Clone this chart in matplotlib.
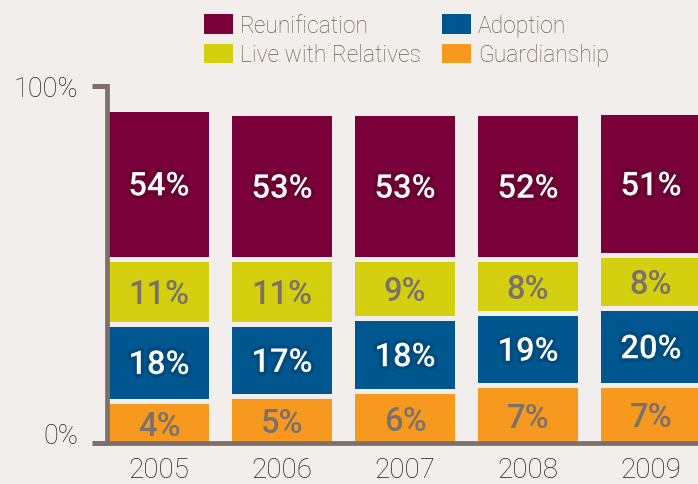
import matplotlib
matplotlib.use("Agg")
import matplotlib.pyplot as plt
import matplotlib.patheffects as pe
from matplotlib.patches import Patch

# ---- data ----
years = ["2005", "2006", "2007", "2008", "2009"]
series_names = ["Reunification", "Live with Relatives", "Adoption", "Guardianship"]
# printed labels (%)
reun_pct = [54, 53, 53, 52, 51]
rel_pct = [11, 11, 9, 8, 8]
adopt_pct = [18, 17, 18, 19, 20]
guard_pct = [4, 5, 6, 7, 7]
# drawn segment heights (% of the axis)
guard_h = [11.0, 12.3, 13.7, 15.4, 15.5]
adopt_h = [20.1, 18.7, 19.0, 18.7, 19.9]
rel_h = [16.8, 16.7, 15.0, 13.6, 13.6]
reun_h = [40.6, 39.7, 39.7, 39.7, 38.5]
y_ticks = [0, 100]
y_ticklabels = ["0%", "100%"]

# ---- style ----
BG = "#f2eeeb"
AXC = "#7b706b"
C_REUN = "#7a003a"
C_REL = "#d4d00f"
C_ADOPT = "#00568f"
C_GUARD = "#f7981f"
GAP = 1.4
BARW = 0.813
TXT_DARK = "#262221"
TXT_GRAY = "#7a716c"
LEG_TXT = "#6e5e56"

fig = plt.figure(figsize=(6.98, 4.85), dpi=100, facecolor=BG)
ax = fig.add_axes([0.1529, 0.0845, 0.8471, 0.7371])
ax.set_facecolor(BG)

x = list(range(len(years)))
stack = [
    (guard_h, guard_pct, C_GUARD, TXT_GRAY, None),
    (adopt_h, adopt_pct, C_ADOPT, "white", "#00385e"),
    (rel_h, rel_pct, C_REL, TXT_GRAY, None),
    (reun_h, reun_pct, C_REUN, "white", "#4a0023"),
]
bottoms = [0.0] * len(years)
for i, (heights, pcts, col, tcol, glow) in enumerate(stack):
    ax.bar(x, heights, bottom=bottoms, width=BARW, color=col,
           linewidth=0, zorder=2)
    for xi, b, h, p in zip(x, bottoms, heights, pcts):
        effects = None
        if glow is not None:
            effects = [pe.withStroke(linewidth=5, foreground=glow, alpha=0.35)]
        ax.text(xi, b + h / 2 - 0.6, f"{p}%", ha="center", va="center",
                fontsize=23.5, color=tcol, family="Roboto", fontweight="medium",
                zorder=4, path_effects=effects)
    bottoms = [b + h + GAP for b, h in zip(bottoms, heights)]

ax.set_xlim(-0.425, 4.382)
ax.set_ylim(0, 100)

for s in ["top", "right"]:
    ax.spines[s].set_visible(False)
for s in ["left", "bottom"]:
    ax.spines[s].set_color(AXC)
    ax.spines[s].set_linewidth(3.4)
    ax.spines[s].set_capstyle("projecting")
    ax.spines[s].set_zorder(5)

ax.set_yticks(y_ticks)
ax.set_yticklabels(y_ticklabels, fontsize=19.5, color=TXT_DARK, family="Roboto",
                   fontweight="light")
ax.tick_params(axis="y", length=10.6, width=3.6, color=AXC, pad=10)
ax.get_yticklabels()[0].set_verticalalignment("baseline")

ax.set_xticks(x)
ax.set_xticklabels(years, fontsize=20, color=TXT_DARK, family="Roboto",
                   fontweight="light")
ax.tick_params(axis="x", length=0, pad=9.5)

leg_handles = [Patch(facecolor=C_REUN), Patch(facecolor=C_REL),
               Patch(facecolor=C_ADOPT), Patch(facecolor=C_GUARD)]
fig.legend(leg_handles, series_names, ncol=2, loc="upper left",
           bbox_to_anchor=(204 / 698, 1 - 15 / 485), frameon=False,
           borderpad=0, borderaxespad=0, handlelength=1.25, handleheight=0.95,
           handletextpad=0.3, columnspacing=0.95, labelspacing=0.28,
           prop={"family": "Roboto", "weight": "light", "size": 16.5},
           labelcolor=LEG_TXT)

fig.savefig("out.png", dpi=100, facecolor=BG)
